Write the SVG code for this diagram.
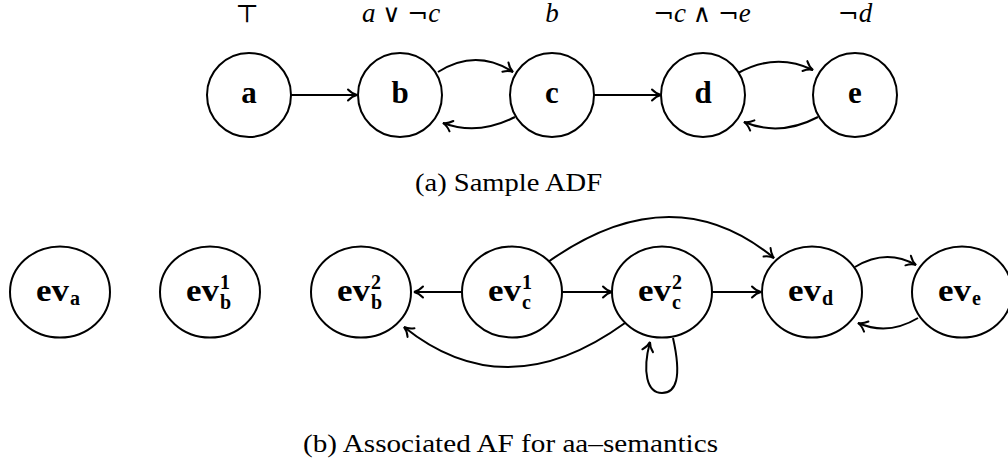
<svg xmlns="http://www.w3.org/2000/svg" width="1008" height="468" viewBox="0 0 1008 468" font-family="'Liberation Serif', 'DejaVu Serif', serif">
<defs>
<style>
.nd{fill:#fff;stroke:#000;stroke-width:2}
.lbl{font-family:'Liberation Serif','DejaVu Serif',serif;font-weight:bold;fill:#000}
.tl{font-size:31px;text-anchor:middle}
.ev{font-size:31px;text-anchor:end}
.sc{font-size:20px}
.math{font-family:'Liberation Serif','DejaVu Serif',serif;font-size:27px;text-anchor:middle;fill:#000}
.op{font-family:'DejaVu Serif',serif;font-weight:normal;font-size:25px}
.cap{font-family:'Liberation Serif','DejaVu Serif',serif;font-size:25px;fill:#000}
.e{fill:none;stroke:#000;stroke-width:2;marker-end:url(#arr)}
</style>
<marker id="arr" markerUnits="userSpaceOnUse" markerWidth="14" markerHeight="14" viewBox="-10 -7 12 14" refX="0" refY="0" orient="auto" overflow="visible">
<path d="M-9,-5.5 C-6,-2.4 -2.8,-0.6 0,0 C-2.8,0.6 -6,2.4 -9,5.5" fill="none" stroke="#000" stroke-width="2" stroke-linecap="round"/>
</marker>
</defs>
<rect width="1008" height="468" fill="#fff"/>

<g id="conditions">
<text class="math" x="247" y="22"><tspan class="op" font-size="26px">⊤</tspan></text>
<text class="math" x="401" y="22"><tspan font-style="italic">a</tspan> <tspan class="op">∨</tspan> <tspan class="op">¬</tspan><tspan font-style="italic">c</tspan></text>
<text class="math" x="552" y="22" font-style="italic">b</text>
<text class="math" x="702" y="22"><tspan class="op">¬</tspan><tspan font-style="italic">c</tspan> <tspan class="op">∧</tspan> <tspan class="op">¬</tspan><tspan font-style="italic">e</tspan></text>
<text class="math" x="855" y="22"><tspan class="op">¬</tspan><tspan font-style="italic">d</tspan></text>
</g>

<g id="edges-top">
<path class="e" d="M291,95 L357,95"/>
<path class="e" d="M438,72 Q476,48 513,72"/>
<path class="e" d="M515,117 Q478,136 443,123"/>
<path class="e" d="M594,95 L661,95"/>
<path class="e" d="M738,73 Q776,52 813,70"/>
<path class="e" d="M818,117 Q780,137 744,122"/>
</g>

<g id="node-a"><circle class="nd" cx="249" cy="95" r="42"/><text class="lbl tl" x="249" y="103">a</text></g>
<g id="node-b"><circle class="nd" cx="400" cy="95" r="42"/><text class="lbl tl" x="400" y="103">b</text></g>
<g id="node-c"><circle class="nd" cx="552" cy="95" r="42"/><text class="lbl tl" x="552" y="103">c</text></g>
<g id="node-d"><circle class="nd" cx="703" cy="95" r="42"/><text class="lbl tl" x="703" y="103">d</text></g>
<g id="node-e"><circle class="nd" cx="855" cy="95" r="42"/><text class="lbl tl" x="855" y="103">e</text></g>

<text class="cap" x="415" y="191" textLength="187" lengthAdjust="spacingAndGlyphs">(a) Sample ADF</text>

<g id="edges-bottom">
<path class="e" d="M464,292 L414,292"/>
<path class="e" d="M561,292 L612,292"/>
<path class="e" d="M711,292 L761,292"/>
<path class="e" d="M548,262 Q672,174 774,258"/>
<path class="e" d="M625,323 Q506,409 404,327"/>
<path class="e" d="M673,338 C682,378 676,393 662,393 C647,393 642,372 650,342"/>
<path class="e" d="M855,267 Q886,248 916,265"/>
<path class="e" d="M918,318 Q888,336 858,323"/>
</g>

<g id="node-ev_a"><ellipse class="nd" cx="60" cy="292" rx="50" ry="45.5"/>
<text class="lbl ev" x="69" y="301" textLength="33" lengthAdjust="spacingAndGlyphs">ev</text><text class="lbl sc" x="70" y="305">a</text></g>
<g id="node-ev_b1"><ellipse class="nd" cx="210" cy="292" rx="50" ry="45.5"/>
<text class="lbl ev" x="219" y="301" textLength="33" lengthAdjust="spacingAndGlyphs">ev</text><text class="lbl sc" x="220" y="289">1</text><text class="lbl sc" x="220" y="309">b</text></g>
<g id="node-ev_b2"><ellipse class="nd" cx="361" cy="292" rx="50" ry="45.5"/>
<text class="lbl ev" x="370" y="301" textLength="33" lengthAdjust="spacingAndGlyphs">ev</text><text class="lbl sc" x="371" y="289">2</text><text class="lbl sc" x="371" y="309">b</text></g>
<g id="node-ev_c1"><ellipse class="nd" cx="512" cy="292" rx="50" ry="45.5"/>
<text class="lbl ev" x="521" y="301" textLength="33" lengthAdjust="spacingAndGlyphs">ev</text><text class="lbl sc" x="522" y="289">1</text><text class="lbl sc" x="522" y="309">c</text></g>
<g id="node-ev_c2"><ellipse class="nd" cx="662" cy="292" rx="50" ry="45.5"/>
<text class="lbl ev" x="671" y="301" textLength="33" lengthAdjust="spacingAndGlyphs">ev</text><text class="lbl sc" x="672" y="289">2</text><text class="lbl sc" x="672" y="309">c</text></g>
<g id="node-ev_d"><ellipse class="nd" cx="812" cy="292" rx="50" ry="45.5"/>
<text class="lbl ev" x="821" y="301" textLength="33" lengthAdjust="spacingAndGlyphs">ev</text><text class="lbl sc" x="822" y="305">d</text></g>
<g id="node-ev_e"><ellipse class="nd" cx="962" cy="292" rx="50" ry="45.5"/>
<text class="lbl ev" x="971" y="301" textLength="33" lengthAdjust="spacingAndGlyphs">ev</text><text class="lbl sc" x="972" y="305">e</text></g>

<text class="cap" x="303" y="452" textLength="415" lengthAdjust="spacingAndGlyphs">(b) Associated AF for aa–semantics</text>
</svg>
